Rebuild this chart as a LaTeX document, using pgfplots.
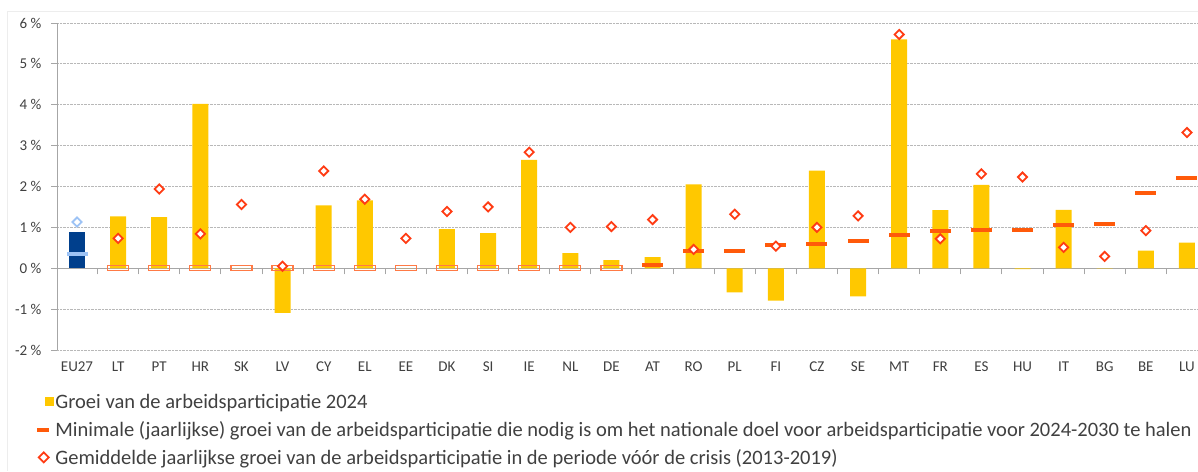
\documentclass[border=0pt]{standalone}
\usepackage{pgfplots}
\pgfplotsset{compat=1.18}
\usepackage{fontspec}
\setmainfont{Carlito}
\definecolor{cyel}{HTML}{FFC800}
\definecolor{cnavy}{HTML}{003F8C}
\definecolor{cdash}{HTML}{FF5A0A}
\definecolor{cdia}{HTML}{FF3C14}
\definecolor{clblue}{HTML}{9DC3F5}
\definecolor{crect}{HTML}{FF7A45}
\definecolor{ctxt}{HTML}{404040}
\pgfdeclareplotmark{hdash}{\pgfpathrectangle{\pgfqpoint{-10.5pt}{-2pt}}{\pgfqpoint{21pt}{4pt}}\pgfusepathqfill}
\pgfdeclareplotmark{hrect}{\pgfpathrectangle{\pgfqpoint{-10.5pt}{-2.5pt}}{\pgfqpoint{21pt}{5pt}}\pgfusepathqstroke}
\pgfdeclareplotmark{dia}{\pgfpathmoveto{\pgfqpoint{0pt}{4.6pt}}\pgfpathlineto{\pgfqpoint{4.6pt}{0pt}}\pgfpathlineto{\pgfqpoint{0pt}{-4.6pt}}\pgfpathlineto{\pgfqpoint{-4.6pt}{0pt}}\pgfpathclose\pgfusepathqfillstroke}
\begin{document}
\begin{tikzpicture}
\useasboundingbox (0,0) rectangle (1198pt,471pt);
\draw[black!7, line width=1pt] (7pt,0pt) -- (7pt,459pt) -- (1198pt,459pt);
\begin{axis}[
  at={(57pt,121pt)}, anchor=south west,
  width=1141pt, height=327pt, scale only axis,
  xmin=-0.487, xmax=27.27, ymin=-2, ymax=6,
  axis x line=middle, axis y line=left,
  x axis line style={-, draw=black!35, line width=1pt},
  y axis line style={-, draw=black!35, line width=1pt},
  xtick={0,...,27},
  xticklabels={EU27,LT,PT,HR,SK,LV,CY,EL,EE,DK,SI,IE,NL,DE,AT,RO,PL,FI,CZ,SE,MT,FR,ES,HU,IT,BG,BE,LU},
  minor xtick={0.5,1.5,...,26.5},
  major x tick style={draw=none},
  minor x tick style={draw=black!35, line width=1pt},
  ytick={-2,-1,...,6},
  y tick style={draw=black!35, line width=1pt},
  tick align=outside,
  major tick length=6pt, minor tick length=6pt,
  ymajorgrids,
  major grid style={draw=black!28, densely dotted, line width=1pt},
  yticklabel={\pgfmathprintnumber{\tick} \%},
  /pgf/number format/assume math mode=true,
  tick label style={font=\fontsize{15}{17}\selectfont, text=ctxt},
  xticklabel style={yshift=-84pt},
  yticklabel style={xshift=-6pt},
  clip=false,
  legend style={at={(-0.0175,-0.131)}, anchor=north west, draw=none, fill=none,
    font=\fontsize{20.5}{22}\selectfont, text=ctxt, row sep=9.5pt,
    inner sep=0pt, outer sep=0pt, nodes={inner sep=1pt}},
  legend cell align=left,
]
% bars EU27
\addplot[ybar, bar width=16pt, bar shift=0pt, fill=cnavy, draw=none, forget plot]
  coordinates {(0,0.88)};
% bars countries
\addplot[ybar, bar width=16pt, bar shift=0pt, fill=cyel, draw=none,
  legend image code/.code={\fill[cyel] (8pt,-4.5pt) rectangle (17pt,4.5pt);}]
  coordinates {
  (1,1.27) (2,1.25) (3,4.02) (4,0) (5,-1.09) (6,1.54) (7,1.66) (8,0)
  (9,0.96) (10,0.86) (11,2.65) (12,0.37) (13,0.20) (14,0.27) (15,2.05)
  (16,-0.59) (17,-0.79) (18,2.39) (19,-0.69) (20,5.60) (21,1.42) (22,2.04)
  (23,-0.02) (24,1.43) (25,-0.01) (26,0.43) (27,0.63)};
\addlegendentry{Groei van de arbeidsparticipatie 2024}
% zero minimum (hollow)
\addplot[only marks, mark=hrect, mark options={draw=crect, line width=1.2pt}, forget plot]
  coordinates {(1,0) (2,0) (3,0) (4,0) (5,0) (6,0) (7,0) (8,0) (9,0) (10,0) (11,0) (12,0) (13,0)};
% minimum dashes
\addplot[only marks, mark=hdash, mark options={fill=cdash},
  legend image code/.code={\fill[cdash] (0pt,-1.5pt) rectangle (11pt,1.5pt); \path (17pt,0pt);}]
  coordinates {(14,0.09) (15,0.42) (16,0.43) (17,0.57) (18,0.59) (19,0.67) (20,0.82)
  (21,0.90) (22,0.94) (23,0.94) (24,1.07) (25,1.09) (26,1.83) (27,2.22)};
\addlegendentry{Minimale (jaarlijkse) groei van de arbeidsparticipatie die nodig is om het nationale doel voor arbeidsparticipatie voor 2024-2030 te halen}
% EU27 dash and diamond
\addplot[only marks, mark=hdash, mark options={fill=clblue}, forget plot] coordinates {(0,0.35)};
\addplot[only marks, mark=dia, mark options={fill=white, draw=clblue, line width=1.8pt}, forget plot] coordinates {(0,1.13)};
% diamonds
\addplot[only marks, mark=dia, mark options={fill=white, draw=cdia, line width=1.8pt},
  legend image code/.code={\draw[fill=white, draw=cdia, line width=1.8pt] (6.5pt,5pt) -- (11.5pt,0pt) -- (6.5pt,-5pt) -- (1.5pt,0pt) -- cycle; \path (17pt,0pt);}]
  coordinates {
  (1,0.73) (2,1.94) (3,0.84) (4,1.56) (5,0.05) (6,2.38) (7,1.69) (8,0.73)
  (9,1.39) (10,1.50) (11,2.84) (12,1.00) (13,1.02) (14,1.19) (15,0.46)
  (16,1.32) (17,0.54) (18,1.00) (19,1.28) (20,5.72) (21,0.72) (22,2.31)
  (23,2.23) (24,0.51) (25,0.29) (26,0.92) (27,3.32)};
\addlegendentry{Gemiddelde jaarlijkse groei van de arbeidsparticipatie in de periode vóór de crisis (2013-2019)}
\end{axis}
\end{tikzpicture}
\end{document}
